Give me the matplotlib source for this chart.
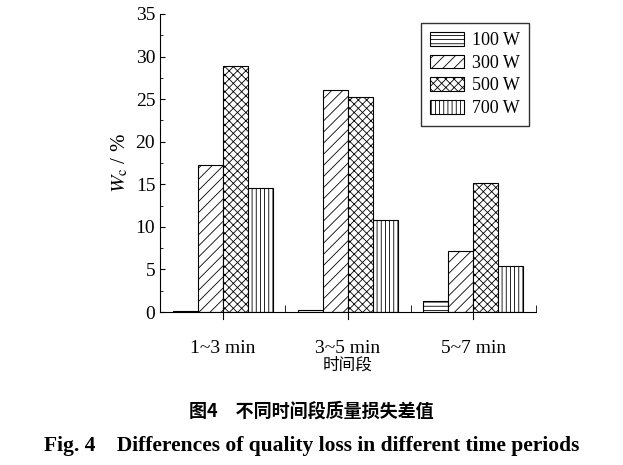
import matplotlib
matplotlib.use("Agg")
import matplotlib.pyplot as plt
import matplotlib.transforms as mtrans
import numpy as np

categories = ["1~3 min", "3~5 min", "5~7 min"]
series_names = ["100 W", "300 W", "500 W", "700 W"]
v100 = [0.1, 0.2, 1.3]
v300 = [17.3, 26.1, 7.2]
v500 = [28.9, 25.2, 15.2]
v700 = [14.6, 10.8, 5.4]
hatches = ["----", "///", "xxxx", "||||"]

plt.rcParams["font.family"] = "Liberation Serif"
plt.rcParams["mathtext.fontset"] = "stix"
plt.rcParams["hatch.linewidth"] = 0.6
fig = plt.figure(figsize=(6.23, 4.65), dpi=100)
ax = fig.add_axes([0.257, 0.329, 0.603, 0.641])
x = np.arange(len(categories))
w = 0.2
for i, (vals, h, name) in enumerate(zip([v100, v300, v500, v700], hatches, series_names)):
    ax.bar(x + (i - 1.5) * w, vals, w, facecolor="white", edgecolor="black", hatch=h, linewidth=0.8, label=name)
ax.set_xlim(-0.5, 2.5)
ax.set_ylim(0, 35)
ax.set_yticks(range(0, 36, 5))
ax.set_yticks(np.arange(2.5, 35, 5), minor=True)
ax.set_xticks(x)
ax.set_xticks([0.5, 1.5, 2.5], minor=True)
ax.set_xticklabels(categories, fontsize=14)
off = mtrans.ScaledTranslation(17 / 100, 0, fig.dpi_scale_trans)
for lab in ax.get_xticklabels():
    lab.set_transform(lab.get_transform() + off)
ax.tick_params(axis="x", which="major", length=0, pad=20, direction="in")
ax.tick_params(axis="x", which="minor", length=5, direction="in")
ax.tick_params(axis="y", which="both", direction="in", labelsize=14)
ax.spines["top"].set_visible(False)
ax.spines["right"].set_visible(False)
for tx in x:
    ax.axvline(tx, ymin=-0.025, ymax=0, color="black", lw=0.8, clip_on=False)
ax.set_ylabel(r"$W_{\mathrm{c}}$ / %", fontsize=15)
ax.set_xlabel("时间段", fontname="Noto Sans CJK SC", fontsize=12, labelpad=0)
leg = ax.legend(loc="upper right", bbox_to_anchor=(1.005, 1.0), fancybox=False, edgecolor="black",
                fontsize=13, handlelength=1.9, handleheight=0.8, borderpad=0.5, labelspacing=0.3,
                handletextpad=0.4)
leg.get_frame().set_linewidth(1.0)
fig.text(0.5, 0.105, "图4　不同时间段质量损失差值", ha="center", fontname="Noto Sans CJK SC", fontsize=13, fontweight="bold")
fig.text(0.5, 0.03, "Fig. 4    Differences of quality loss in different time periods", ha="center", fontsize=15.5, fontweight="bold")
fig.savefig("out.png", dpi=100)
